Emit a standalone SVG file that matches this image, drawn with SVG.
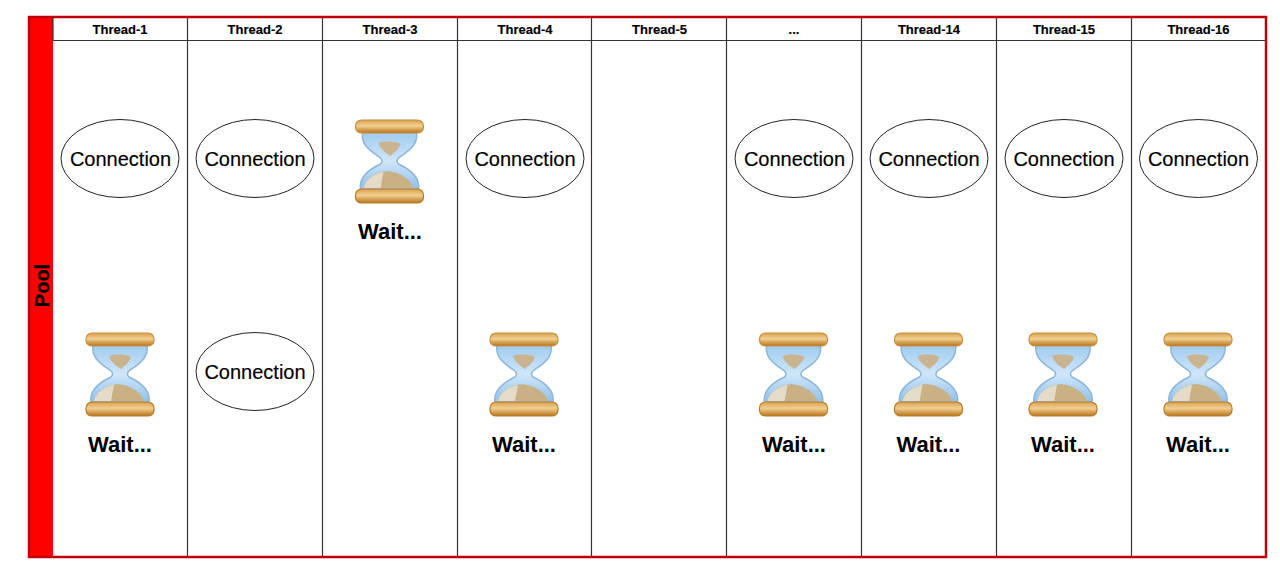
<svg xmlns="http://www.w3.org/2000/svg" xmlns:xlink="http://www.w3.org/1999/xlink" width="1280" height="571" viewBox="0 0 1280 571">
<style>
text{font-family:"Liberation Sans",Arial,sans-serif;text-anchor:middle;fill:#000}
.h{font-size:13px;font-weight:bold;stroke:#000;stroke-width:.15}
.c{font-size:20px;stroke:#000;stroke-width:.15}
.w{font-size:22px;font-weight:bold}
.e{fill:#fff;stroke:#222;stroke-width:1}
.l{stroke:#333;stroke-width:1.200;fill:none}
</style>
<defs>
<linearGradient id="gold" x1="0" y1="0" x2="0" y2="1"><stop offset="0" stop-color="#d9a050"/><stop offset=".45" stop-color="#f2cf8f"/><stop offset="1" stop-color="#b8741c"/></linearGradient>
<linearGradient id="glass" x1="0" y1="0" x2="0" y2="1"><stop offset="0" stop-color="#9fcbf0"/><stop offset=".5" stop-color="#cfe6f8"/><stop offset="1" stop-color="#8fbfe8"/></linearGradient>
<g id="hg">
<path d="M-27 -29H27C29 -16 19 -10 9 -3C7 -1 7 1 9 3C22 9 31 17 29 29H-29C-31 17 -22 9 -9 3C-7 1 -7 -1 -9 -3C-19 -10 -29 -16 -27 -29Z" fill="url(#glass)" stroke="#8db6da" stroke-width="1.500"/>
<path d="M-11 -18C-4 -20 5 -20 11 -17C9 -11 4 -8 1 -5C-4 -8 -9 -12 -11 -18Z" fill="#c9b48f"/>
<path d="M-26 27C-24 18 -14 11 -2 10C10 11 21 18 24 27Z" fill="#c9b185"/>
<path d="M-26 27C-24 18 -14 12 -6 11L-9 27Z" fill="#e4dcc8"/>
<rect x="-34" y="-41" width="68" height="13" rx="6" fill="url(#gold)" stroke="#c68f3c" stroke-width="1.200"/>
<rect x="-34" y="28" width="68" height="14" rx="6" fill="url(#gold)" stroke="#b97c24" stroke-width="1.200"/>
</g>
</defs>
<rect width="1280" height="571" fill="#fff"/>
<rect x="29" y="17" width="24" height="540" fill="#f00"/>
<g id="connectors">
<path class="l" d="M53 40.500H1266M187.500 17V557M322.500 17V557M457.500 17V557M591.500 17V557M726.500 17V557M861.500 17V557M996.500 17V557M1131.500 17V557"/>
</g>
<rect x="29" y="17" width="1237" height="540" fill="none" stroke="#c00008" stroke-width="2.500"/>
<path d="M53 17V41" stroke="#333" stroke-width="1.200"/>
<g id="pool"><text class="h" style="font-size:20px" transform="translate(48.500 285.500) rotate(-90)">Pool</text></g>
<g id="thread-1"><text class="h" x="120" y="34">Thread-1</text><ellipse class="e" cx="120" cy="158.500" rx="59" ry="39"/><text class="c" x="120.500" y="165.500">Connection</text><use xlink:href="#hg" href="#hg" x="120" y="374"/><text class="w" x="120" y="452">Wait...</text></g>
<g id="thread-2"><text class="h" x="255" y="34">Thread-2</text><ellipse class="e" cx="255" cy="158.500" rx="59" ry="39"/><text class="c" x="255" y="165.500">Connection</text><ellipse class="e" cx="255" cy="371.500" rx="59" ry="39"/><text class="c" x="255" y="378.500">Connection</text></g>
<g id="thread-3"><text class="h" x="390" y="34">Thread-3</text><use xlink:href="#hg" href="#hg" x="389.500" y="161"/><text class="w" x="390" y="238.500">Wait...</text></g>
<g id="thread-4"><text class="h" x="525" y="34">Thread-4</text><ellipse class="e" cx="525" cy="158.500" rx="59" ry="39"/><text class="c" x="525" y="165.500">Connection</text><use xlink:href="#hg" href="#hg" x="524" y="374"/><text class="w" x="524" y="452">Wait...</text></g>
<g id="thread-5"><text class="h" x="659.500" y="34">Thread-5</text></g>
<g id="thread-6"><text class="h" x="794" y="34">...</text><ellipse class="e" cx="794" cy="158.500" rx="59" ry="39"/><text class="c" x="794.500" y="165.500">Connection</text><use xlink:href="#hg" href="#hg" x="793.500" y="374"/><text class="w" x="794" y="452">Wait...</text></g>
<g id="thread-14"><text class="h" x="929" y="34">Thread-14</text><ellipse class="e" cx="929" cy="158.500" rx="59" ry="39"/><text class="c" x="929" y="165.500">Connection</text><use xlink:href="#hg" href="#hg" x="928.500" y="374"/><text class="w" x="928.500" y="452">Wait...</text></g>
<g id="thread-15"><text class="h" x="1064" y="34">Thread-15</text><ellipse class="e" cx="1064" cy="158.500" rx="59" ry="39"/><text class="c" x="1064" y="165.500">Connection</text><use xlink:href="#hg" href="#hg" x="1063" y="374"/><text class="w" x="1063" y="452">Wait...</text></g>
<g id="thread-16"><text class="h" x="1198.500" y="34">Thread-16</text><ellipse class="e" cx="1198.500" cy="158.500" rx="59" ry="39"/><text class="c" x="1198.500" y="165.500">Connection</text><use xlink:href="#hg" href="#hg" x="1198" y="374"/><text class="w" x="1198" y="452">Wait...</text></g>
</svg>
